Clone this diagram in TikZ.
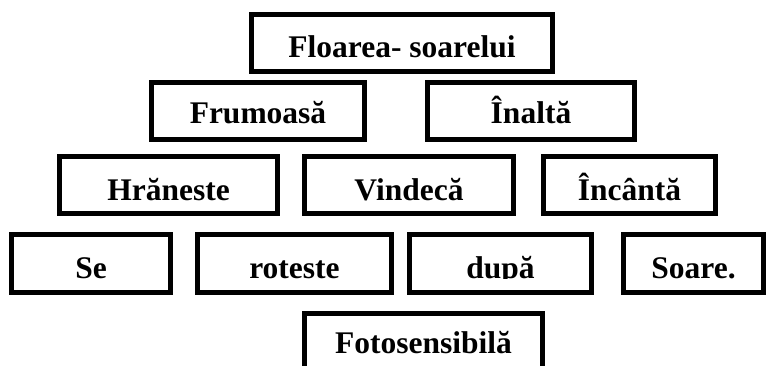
\documentclass[tikz,border=0pt]{standalone}
\usepackage{fontspec}
\setmainfont{Liberation Serif}
\usepackage{trimclip}
\begin{document}
\begin{tikzpicture}[x=1pt,y=-1pt,
  wbox/.style={draw=black, line width=5pt, fill=white, inner sep=0pt, outer sep=0pt,
    anchor=base, font=\fontsize{31.5}{36}\selectfont\bfseries},
  rowa/.style={text height=42.5pt, text depth=14.5pt},
  rowb/.style={text height=40.5pt, text depth=16.5pt},
  rowc/.style={text height=43.5pt, text depth=13.5pt},
  rowd/.style={text height=43.5pt, text depth=14.5pt},
  rowe/.style={text height=39.5pt, text depth=20pt}]
\fill[white] (0,0) rectangle (766,365);
\useasboundingbox (0,0) rectangle (766,365);
% row 1
\node[wbox,rowa,minimum width=301pt] (floarea) at (402,57) {Floarea- soarelui};
% row 2
\node[wbox,rowb,minimum width=213pt] (frumoasa) at (258,123) {Frumoasă};
\node[wbox,rowb,minimum width=207pt] (inalta) at (531,123) {Înaltă};
% row 3
\node[wbox,rowc,minimum width=218pt] (hraneste) at (168.5,200) {Hrăneste};
\node[wbox,rowc,minimum width=209pt] (vindeca) at (409,200) {Vindecă};
\node[wbox,rowc,minimum width=172pt] (incanta) at (629.5,200) {Încântă};
% row 4
\node[wbox,rowd,minimum width=159pt] (se) at (91,278) {Se};
\node[wbox,rowd,minimum width=194pt] (roteste) at (294.5,278) {roteste};
\node[wbox,rowd,minimum width=182pt] (dupa) at (500.5,278) {\clipbox{0pt {\depth} 0pt 0pt}{după}};
\node[wbox,rowd,minimum width=140pt] (soare) at (693.5,278) {Soare.};
% row 5
\node[wbox,rowe,minimum width=238pt] (foto) at (423.5,353) {Fotosensibilă\hspace{14pt}};
\end{tikzpicture}
\end{document}
